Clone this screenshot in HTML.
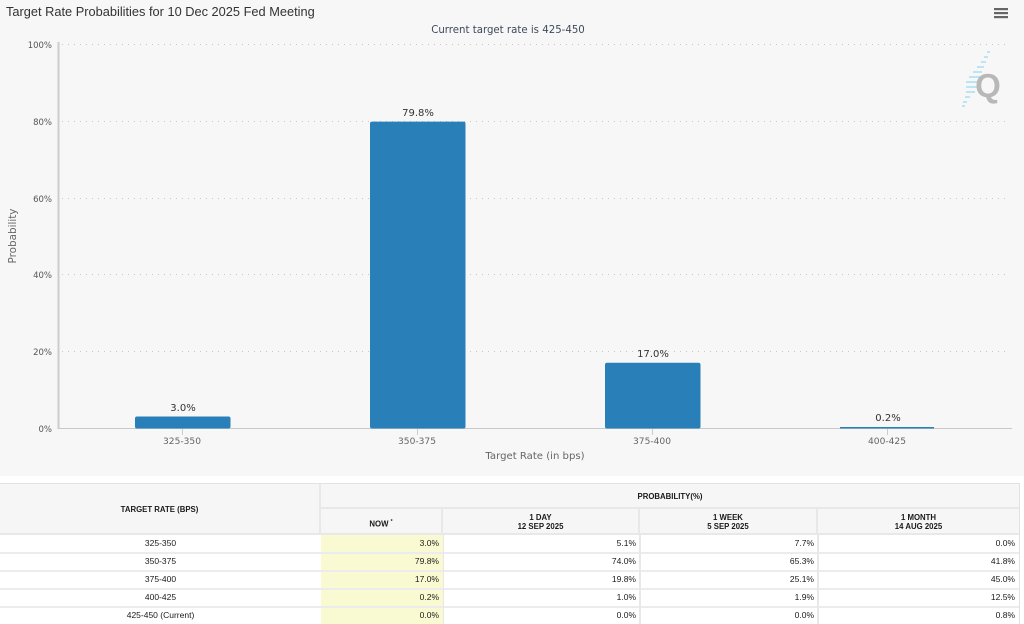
<!DOCTYPE html>
<html><head><meta charset="utf-8"><style>
html,body{margin:0;padding:0;width:1024px;height:624px;overflow:hidden;background:#fff;}
.chart{position:absolute;left:0;top:0;width:1024px;height:476px;background:#f7f7f7;}
svg text{font-family:"DejaVu Sans","Liberation Sans",sans-serif;}
.cell{position:absolute;box-sizing:border-box;font-family:"Liberation Sans",Arial,sans-serif;font-size:8.5px;color:#1a1a1a;}
.h{background:#f6f6f6;font-weight:bold;font-size:7.8px;text-align:center;}
</style></head><body>
<div class="chart">
<svg width="1024" height="476" viewBox="0 0 1024 476" xmlns="http://www.w3.org/2000/svg">
<text x="6" y="16" font-size="12.8" fill="#333" style="font-family:'Liberation Sans',Arial,sans-serif">Target Rate Probabilities for 10 Dec 2025 Fed Meeting</text>
<text x="508" y="33" font-size="10.2" fill="#3d4a5c" text-anchor="middle">Current target rate is 425-450</text>
<g fill="#666"><rect x="994" y="8" width="14" height="2.2"/><rect x="994" y="12" width="14" height="2.2"/><rect x="994" y="16" width="14" height="2.2"/></g>
<g stroke="#c8c8c8" stroke-width="1" stroke-dasharray="1,5">
<line x1="62" y1="44.5" x2="1010" y2="44.5"/>
<line x1="62" y1="121.5" x2="1010" y2="121.5"/>
<line x1="62" y1="198.5" x2="1010" y2="198.5"/>
<line x1="62" y1="274.5" x2="1010" y2="274.5"/>
<line x1="62" y1="351.5" x2="1010" y2="351.5"/>
</g>
<g stroke="#a8ddf2" stroke-width="1.5">
<line x1="987" y1="52" x2="990" y2="52"/><line x1="984" y1="57" x2="988" y2="57"/><line x1="981" y1="62" x2="986" y2="62"/><line x1="977" y1="67" x2="984" y2="67"/><line x1="973" y1="72" x2="982" y2="72"/><line x1="969" y1="77" x2="982" y2="77"/><line x1="966" y1="82" x2="980" y2="82"/><line x1="966" y1="87" x2="978" y2="87"/><line x1="966" y1="92" x2="975" y2="92"/><line x1="965" y1="97" x2="970" y2="97"/><line x1="963" y1="102" x2="967" y2="102"/><line x1="962" y1="106" x2="965" y2="106"/>
</g>
<text x="988" y="97" font-size="33" font-weight="bold" fill="#b8b8b8" text-anchor="middle" style="font-family:'Liberation Sans',Arial,sans-serif">Q</text>
<line x1="58.5" y1="42" x2="58.5" y2="429" stroke="#ccc" stroke-width="2"/>
<line x1="58" y1="428.5" x2="1012" y2="428.5" stroke="#c8c8c8" stroke-width="1"/>
<g font-size="8.5" fill="#555" text-anchor="end">
<text x="52" y="48">100%</text><text x="52" y="125">80%</text><text x="52" y="202">60%</text><text x="52" y="278">40%</text><text x="52" y="355">20%</text><text x="52" y="432">0%</text>
</g>
<text transform="translate(16,236) rotate(-90)" font-size="10.4" fill="#666" text-anchor="middle">Probability</text>
<g fill="#2980b9">
<rect x="135" y="416.5" width="95.5" height="12" rx="2"/>
<rect x="370" y="121.6" width="95.5" height="306.9" rx="2"/>
<rect x="605" y="362.7" width="95.5" height="65.8" rx="2"/>
<rect x="840" y="427" width="94" height="1.5"/>
</g>
<g stroke="#ccc" stroke-width="1">
<line x1="182.5" y1="429" x2="182.5" y2="435"/><line x1="417.5" y1="429" x2="417.5" y2="435"/><line x1="652.5" y1="429" x2="652.5" y2="435"/><line x1="887.5" y1="429" x2="887.5" y2="435"/>
</g>
<g font-size="10" fill="#333" text-anchor="middle">
<text x="183" y="411">3.0%</text><text x="418" y="116">79.8%</text><text x="653" y="357">17.0%</text><text x="888" y="421">0.2%</text>
</g>
<g font-size="9.1" fill="#666" text-anchor="middle">
<text x="182" y="444">325-350</text><text x="417" y="444">350-375</text><text x="652" y="444">375-400</text><text x="887" y="444">400-425</text>
</g>
<text x="535" y="459" font-size="10.1" fill="#666" text-anchor="middle">Target Rate (in bps)</text>
</svg>
</div>

<div style="position:absolute;left:0;top:483px;width:1020px;height:141px;background:#fff;border-top:1px solid #e2e2e2;border-right:1px solid #e2e2e2;box-sizing:border-box;"></div>
<div class="cell h" style="left:0;top:484px;width:321px;height:51px;line-height:51px;border-right:2px solid #e8e8e8;border-bottom:2px solid #e8e8e8;">TARGET RATE (BPS)</div>
<div class="cell h" style="left:321px;top:484px;width:698px;height:25px;line-height:25px;border-bottom:2px solid #e8e8e8;">PROBABILITY(%)</div>
<div class="cell h" style="left:321px;top:509px;width:122px;height:26px;line-height:26px;border-right:2px solid #e8e8e8;border-bottom:2px solid #e8e8e8;">NOW <sup style="font-size:5px">*</sup></div>
<div class="cell h" style="left:443px;top:509px;width:197px;height:26px;padding-top:4px;line-height:9px;border-right:2px solid #e8e8e8;border-bottom:2px solid #e8e8e8;">1 DAY<br>12 SEP 2025</div>
<div class="cell h" style="left:640px;top:509px;width:178px;height:26px;padding-top:4px;line-height:9px;border-right:2px solid #e8e8e8;border-bottom:2px solid #e8e8e8;">1 WEEK<br>5 SEP 2025</div>
<div class="cell h" style="left:818px;top:509px;width:201px;height:26px;padding-top:4px;line-height:9px;border-bottom:2px solid #e8e8e8;">1 MONTH<br>14 AUG 2025</div>

<div style="position:absolute;left:321px;top:535px;width:122px;height:89px;background:#fafad2;"></div>
<div style="position:absolute;left:0;top:552px;width:1019px;height:2px;background:#ececec;"></div>
<div style="position:absolute;left:0;top:570px;width:1019px;height:2px;background:#ececec;"></div>
<div style="position:absolute;left:0;top:588px;width:1019px;height:2px;background:#ececec;"></div>
<div style="position:absolute;left:0;top:606px;width:1019px;height:2px;background:#ececec;"></div>
<div style="position:absolute;left:443px;top:535px;width:1px;height:89px;background:#e8e8e8;"></div>
<div style="position:absolute;left:639px;top:535px;width:2px;height:89px;background:#e8e8e8;"></div>
<div style="position:absolute;left:817px;top:535px;width:2px;height:89px;background:#e8e8e8;"></div>

<div class="cell" style="left:0;top:535px;width:321px;height:17px;line-height:17px;text-align:center;">325-350</div>
<div class="cell" style="left:0;top:553px;width:321px;height:17px;line-height:17px;text-align:center;">350-375</div>
<div class="cell" style="left:0;top:571px;width:321px;height:17px;line-height:17px;text-align:center;">375-400</div>
<div class="cell" style="left:0;top:589px;width:321px;height:17px;line-height:17px;text-align:center;">400-425</div>
<div class="cell" style="left:0;top:607px;width:321px;height:17px;line-height:17px;text-align:center;">425-450 (Current)</div>

<div class="cell" style="left:321px;top:535px;width:118px;height:17px;line-height:17px;text-align:right;">3.0%</div>
<div class="cell" style="left:321px;top:553px;width:118px;height:17px;line-height:17px;text-align:right;">79.8%</div>
<div class="cell" style="left:321px;top:571px;width:118px;height:17px;line-height:17px;text-align:right;">17.0%</div>
<div class="cell" style="left:321px;top:589px;width:118px;height:17px;line-height:17px;text-align:right;">0.2%</div>
<div class="cell" style="left:321px;top:607px;width:118px;height:17px;line-height:17px;text-align:right;">0.0%</div>

<div class="cell" style="left:443px;top:535px;width:193px;height:17px;line-height:17px;text-align:right;">5.1%</div>
<div class="cell" style="left:443px;top:553px;width:193px;height:17px;line-height:17px;text-align:right;">74.0%</div>
<div class="cell" style="left:443px;top:571px;width:193px;height:17px;line-height:17px;text-align:right;">19.8%</div>
<div class="cell" style="left:443px;top:589px;width:193px;height:17px;line-height:17px;text-align:right;">1.0%</div>
<div class="cell" style="left:443px;top:607px;width:193px;height:17px;line-height:17px;text-align:right;">0.0%</div>

<div class="cell" style="left:640px;top:535px;width:174px;height:17px;line-height:17px;text-align:right;">7.7%</div>
<div class="cell" style="left:640px;top:553px;width:174px;height:17px;line-height:17px;text-align:right;">65.3%</div>
<div class="cell" style="left:640px;top:571px;width:174px;height:17px;line-height:17px;text-align:right;">25.1%</div>
<div class="cell" style="left:640px;top:589px;width:174px;height:17px;line-height:17px;text-align:right;">1.9%</div>
<div class="cell" style="left:640px;top:607px;width:174px;height:17px;line-height:17px;text-align:right;">0.0%</div>

<div class="cell" style="left:818px;top:535px;width:197px;height:17px;line-height:17px;text-align:right;">0.0%</div>
<div class="cell" style="left:818px;top:553px;width:197px;height:17px;line-height:17px;text-align:right;">41.8%</div>
<div class="cell" style="left:818px;top:571px;width:197px;height:17px;line-height:17px;text-align:right;">45.0%</div>
<div class="cell" style="left:818px;top:589px;width:197px;height:17px;line-height:17px;text-align:right;">12.5%</div>
<div class="cell" style="left:818px;top:607px;width:197px;height:17px;line-height:17px;text-align:right;">0.8%</div>
</body></html>
